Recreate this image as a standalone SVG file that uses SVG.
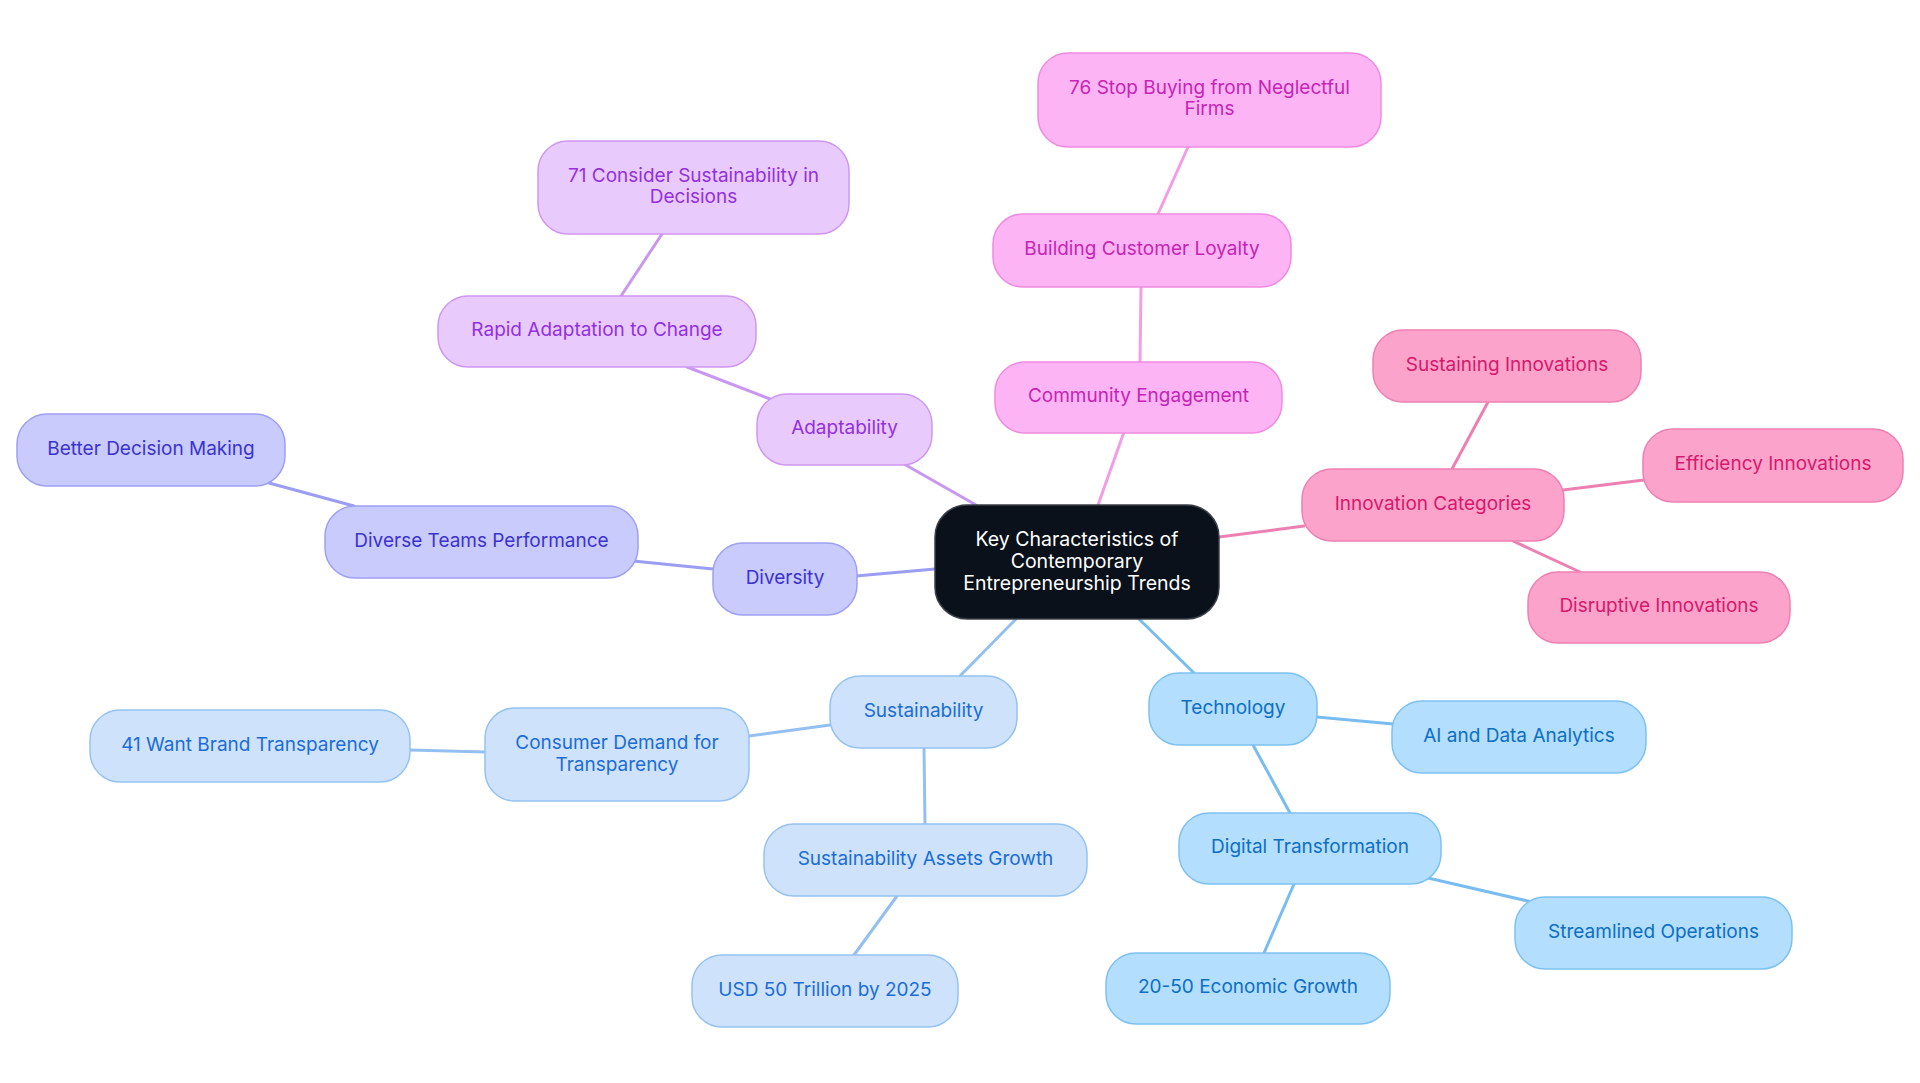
<svg xmlns="http://www.w3.org/2000/svg" width="1920" height="1083" viewBox="0 0 1920 1083">
<style>
text{font-family:Inter,"Noto Sans","Liberation Sans",sans-serif;font-size:19px;text-anchor:middle;dominant-baseline:central}
.n rect{stroke-width:1.5}
.pur rect{fill:#e8cbfc;stroke:#cf97f1}.pur text{fill:#9330df}
.pnk rect{fill:#fdb4f4;stroke:#f08ae0}.pnk text{fill:#c624b4}
.hot rect{fill:#fba3cb;stroke:#ee80b2}.hot text{fill:#d8176c}
.ind rect{fill:#c9cbfc;stroke:#9da0f3}.ind text{fill:#3b33cf}
.lbl rect{fill:#cee3fb;stroke:#95c2f1}.lbl text{fill:#1b6dd5}
.sky rect{fill:#b4defd;stroke:#7cc1f2}.sky text{fill:#0d6fc3}
.c line{stroke-width:3;stroke-linecap:round}
</style>
<rect width="1920" height="1083" fill="#ffffff"/>
<g id="connectors" class="c">
<line x1="1219" y1="537" x2="1304" y2="526" stroke="#ec80b2"/>
<line x1="1488" y1="402" x2="1452" y2="469" stroke="#ec80b2"/>
<line x1="1563" y1="490" x2="1644" y2="480" stroke="#ec80b2"/>
<line x1="1513" y1="541" x2="1580" y2="572" stroke="#ec80b2"/>
<line x1="1098" y1="505" x2="1124" y2="432" stroke="#f29de5"/>
<line x1="1141" y1="287" x2="1140" y2="362" stroke="#f29de5"/>
<line x1="1188" y1="147" x2="1158" y2="214" stroke="#f29de5"/>
<line x1="976" y1="505" x2="904" y2="464" stroke="#c997f0"/>
<line x1="687" y1="367" x2="770" y2="399" stroke="#c997f0"/>
<line x1="662" y1="234" x2="621" y2="296" stroke="#c997f0"/>
<line x1="935" y1="569" x2="856" y2="576" stroke="#9b9df3"/>
<line x1="713" y1="569" x2="633" y2="561" stroke="#9b9df3"/>
<line x1="354" y1="506" x2="269" y2="483" stroke="#9b9df3"/>
<line x1="1016" y1="619" x2="960" y2="676" stroke="#93c0f0"/>
<line x1="830" y1="725" x2="749" y2="736" stroke="#93c0f0"/>
<line x1="485" y1="752" x2="410" y2="750" stroke="#93c0f0"/>
<line x1="924" y1="748" x2="925" y2="824" stroke="#93c0f0"/>
<line x1="897" y1="896" x2="854" y2="955" stroke="#93c0f0"/>
<line x1="1139" y1="619" x2="1194" y2="673" stroke="#79bdf0"/>
<line x1="1317" y1="717" x2="1393" y2="724" stroke="#79bdf0"/>
<line x1="1253" y1="745" x2="1290" y2="813" stroke="#79bdf0"/>
<line x1="1428" y1="878" x2="1532" y2="902" stroke="#79bdf0"/>
<line x1="1294" y1="884" x2="1264" y2="953" stroke="#79bdf0"/>
</g>
<g id="root"><rect x="935" y="505" width="284" height="114" rx="32" fill="#0b111b" stroke="#3a3f47" stroke-width="1.5"/>
<text x="1077" y="539" fill="#ffffff" style="font-size:19.5px">Key Characteristics of</text>
<text x="1077" y="561" fill="#ffffff" style="font-size:19.5px">Contemporary</text>
<text x="1077" y="583" fill="#ffffff" style="font-size:19.5px">Entrepreneurship Trends</text></g>
<g id="community" class="n pnk"><rect x="995" y="362" width="287" height="71" rx="30"/><text x="1138.5" y="395.5">Community Engagement</text></g>
<g id="loyalty" class="n pnk"><rect x="993" y="214" width="298" height="73" rx="30"/><text x="1142" y="248.5">Building Customer Loyalty</text></g>
<g id="stop" class="n pnk"><rect x="1038" y="53" width="343" height="94" rx="30"/><text x="1209.5" y="87">76 Stop Buying from Neglectful</text><text x="1209.5" y="108">Firms</text></g>
<g id="innov" class="n hot"><rect x="1302" y="469" width="262" height="72" rx="30"/><text x="1433" y="503">Innovation Categories</text></g>
<g id="sustaining" class="n hot"><rect x="1373" y="330" width="268" height="72" rx="30"/><text x="1507" y="364">Sustaining Innovations</text></g>
<g id="efficiency" class="n hot"><rect x="1643" y="429" width="260" height="73" rx="30"/><text x="1773" y="463.5">Efficiency Innovations</text></g>
<g id="disruptive" class="n hot"><rect x="1528" y="572" width="262" height="71" rx="30"/><text x="1659" y="605.5">Disruptive Innovations</text></g>
<g id="adapt" class="n pur"><rect x="757" y="394" width="175" height="71" rx="30"/><text x="844.5" y="427.5">Adaptability</text></g>
<g id="rapid" class="n pur"><rect x="438" y="296" width="318" height="71" rx="30"/><text x="597" y="329.5">Rapid Adaptation to Change</text></g>
<g id="consider" class="n pur"><rect x="538" y="141" width="311" height="93" rx="30"/><text x="693.5" y="175">71 Consider Sustainability in</text><text x="693.5" y="196">Decisions</text></g>
<g id="diversity" class="n ind"><rect x="713" y="543" width="144" height="72" rx="30"/><text x="785" y="577">Diversity</text></g>
<g id="teams" class="n ind"><rect x="325" y="506" width="313" height="72" rx="30"/><text x="481.5" y="540">Diverse Teams Performance</text></g>
<g id="better" class="n ind"><rect x="17" y="414" width="268" height="72" rx="30"/><text x="151" y="448">Better Decision Making</text></g>
<g id="sust" class="n lbl"><rect x="830" y="676" width="187" height="72" rx="30"/><text x="923.5" y="710">Sustainability</text></g>
<g id="demand" class="n lbl"><rect x="485" y="708" width="264" height="93" rx="30"/><text x="617" y="742">Consumer Demand for</text><text x="617" y="764">Transparency</text></g>
<g id="want" class="n lbl"><rect x="90" y="710" width="320" height="72" rx="30"/><text x="250" y="744">41 Want Brand Transparency</text></g>
<g id="assets" class="n lbl"><rect x="764" y="824" width="323" height="72" rx="30"/><text x="925.5" y="858">Sustainability Assets Growth</text></g>
<g id="usd" class="n lbl"><rect x="692" y="955" width="266" height="72" rx="30"/><text x="825" y="989">USD 50 Trillion by 2025</text></g>
<g id="tech" class="n sky"><rect x="1149" y="673" width="168" height="72" rx="30"/><text x="1233" y="707">Technology</text></g>
<g id="ai" class="n sky"><rect x="1392" y="701" width="254" height="72" rx="30"/><text x="1519" y="735">AI and Data Analytics</text></g>
<g id="digital" class="n sky"><rect x="1179" y="813" width="262" height="71" rx="30"/><text x="1310" y="846.5">Digital Transformation</text></g>
<g id="stream" class="n sky"><rect x="1515" y="897" width="277" height="72" rx="30"/><text x="1653.5" y="931">Streamlined Operations</text></g>
<g id="growth" class="n sky"><rect x="1106" y="953" width="284" height="71" rx="30"/><text x="1248" y="986.5">20-50 Economic Growth</text></g>
</svg>
